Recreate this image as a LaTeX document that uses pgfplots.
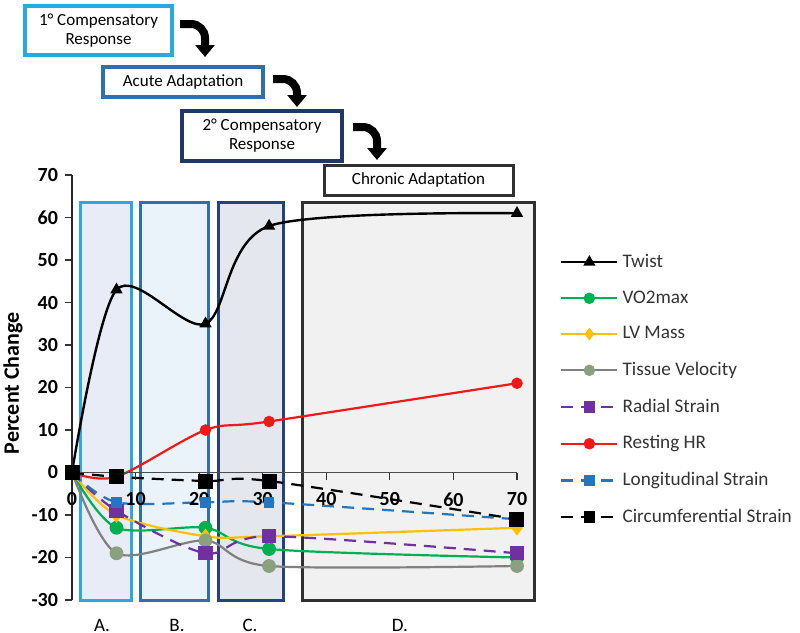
\documentclass[border=0pt]{standalone}
\usepackage{fontspec}
\setmainfont{Carlito}
\usepackage{pgfplots}
\pgfplotsset{compat=1.18}
\usetikzlibrary{arrows.meta}
\definecolor{cA}{HTML}{2AA8E0}
\definecolor{cB}{HTML}{2E6FB0}
\definecolor{cC}{HTML}{24427E}
\definecolor{cD}{HTML}{303030}
\definecolor{fA}{HTML}{E8ECF6}
\definecolor{fB}{HTML}{EAF2FA}
\definecolor{fC}{HTML}{E4E7EE}
\definecolor{fD}{HTML}{F1F1F1}
\definecolor{vo}{HTML}{00B050}
\definecolor{lv}{HTML}{FFC000}
\definecolor{tvl}{HTML}{808080}
\definecolor{tvm}{HTML}{8AA07E}
\definecolor{rad}{HTML}{7030A0}
\definecolor{hr}{HTML}{F01818}
\definecolor{lon}{HTML}{2377C0}
\definecolor{b3}{HTML}{1F3864}
\begin{document}
\begin{tikzpicture}
\useasboundingbox (0,0) rectangle (400pt,-316.5pt);
\begin{axis}[
  at={(36pt,-300pt)}, anchor=south west,
  scale only axis, width=222.5pt, height=212.5pt,
  xmin=0, xmax=70, ymin=-30, ymax=70,
  clip=false, axis on top,
  axis x line=middle, axis y line=left,
  axis line style={-},
  x axis line style={draw=black!70, line width=0.6pt},
  y axis line style={draw=black!85, line width=0.8pt},
  xtick={0,10,...,70}, ytick={-30,-20,...,70},
  tick align=outside, major tick length=3.5pt,
  tick style={black!80, line width=0.6pt},
  hide obscured x ticks=false,
  ticklabel style={font=\bfseries\fontsize{10}{12}\selectfont},
  xticklabel style={yshift=-3pt},
  /pgf/number format/assume math mode=true,
  ylabel={Percent Change},
  ylabel style={at={(axis description cs:-0.1326,0.51)}, anchor=center, font=\bfseries\fontsize{11}{13}\selectfont},
  legend style={at={(axis cs:76.1,53.4)}, anchor=north west, draw=none, fill=none,
    font=\fontsize{9.6}{11}\selectfont, text=black!80, row sep=6.2pt, inner xsep=2pt},
  legend cell align=left,
  legend image post style={mark size=2.3pt},
  legend image code/.code={\draw[mark repeat=2,mark phase=2,#1] plot coordinates {(0pt,0pt) (14pt,0pt) (28pt,0pt)};},
]
\filldraw[fill=fA, draw=cA, line width=1.5pt] (axis cs:1.26,-30) rectangle (axis cs:9.3,63.5);
\filldraw[fill=fB, draw=cB, line width=1.5pt] (axis cs:10.7,-30) rectangle (axis cs:21.4,63.5);
\filldraw[fill=fC, draw=cC, line width=1.5pt] (axis cs:23.1,-30) rectangle (axis cs:33.2,63.5);
\filldraw[fill=fD, draw=cD, line width=1.5pt] (axis cs:36.2,-30) rectangle (axis cs:72.7,63.5);

\addplot[smooth, black, line width=1.2pt, mark=triangle*, mark size=2.4pt]
  coordinates {(0,0)(7,43)(21,35)(31,58)(70,61)};
\addlegendentry{Twist}
\addplot[smooth, vo, line width=1.1pt, mark=*, mark size=2.9pt]
  coordinates {(0,0)(7,-13)(21,-13)(31,-18)(70,-20)};
\addlegendentry{VO2max}
\addplot[smooth, lv, line width=1.1pt, mark=diamond*, mark size=3pt]
  coordinates {(0,0)(7,-10)(21,-15)(31,-15)(70,-13)};
\addlegendentry{LV Mass}
\addplot[smooth, tvl, line width=1.1pt, mark=*, mark size=2.9pt, mark options={fill=tvm, draw=tvm}]
  coordinates {(0,0)(7,-19)(21,-16)(31,-22)(70,-22)};
\addlegendentry{Tissue Velocity}
\addplot[smooth, rad, line width=1.1pt, dash pattern=on 6pt off 4pt, mark=square*, mark size=3pt, mark options={solid}]
  coordinates {(0,0)(7,-9)(21,-19)(31,-15)(70,-19)};
\addlegendentry{Radial Strain}
\addplot[smooth, hr, line width=1.1pt, mark=*, mark size=2.3pt]
  coordinates {(0,0)(7,-1)(21,10)(31,12)(70,21)};
\addlegendentry{Resting HR}
\addplot[smooth, lon, line width=1.1pt, dash pattern=on 6pt off 4pt, mark=square*, mark size=2.1pt, mark options={solid}]
  coordinates {(0,0)(7,-7)(21,-7)(31,-7)(70,-11)};
\addlegendentry{Longitudinal Strain}
\addplot[smooth, black, line width=1.1pt, dash pattern=on 6pt off 4pt, mark=square*, mark size=3.2pt, mark options={solid}]
  coordinates {(0,0)(7,-1)(21,-2)(31,-2)(70,-11)};
\addlegendentry{Circumferential Strain}
\end{axis}
\begin{scope}[x=0.5pt,y=-0.5pt]
\draw[cA, line width=1.7pt] (25,6) rectangle (172,55);
\node[align=center, font=\fontsize{8.5}{9.5}\selectfont] at (98.5,30.5) {1° Compensatory\\Response};
\draw[cB, line width=1.6pt] (103,67) rectangle (263,97);
\node[font=\fontsize{8.5}{9.5}\selectfont] at (183,82) {Acute Adaptation};
\draw[b3, line width=1.6pt] (182,111) rectangle (342,161);
\node[align=center, font=\fontsize{8.5}{9.5}\selectfont] at (262,136) {2° Compensatory\\Response};
\draw[cD, line width=1.5pt] (324,165) rectangle (513,195);
\node[font=\fontsize{8.5}{9.5}\selectfont] at (418.5,180) {Chronic Adaptation};
\draw[line width=4pt, rounded corners=7pt, -{Triangle[length=6pt,width=9.5pt]}] (180,24) -| (205,57);
\draw[line width=4pt, rounded corners=7pt, -{Triangle[length=6pt,width=9.5pt]}] (273,79) -| (297,107);
\draw[line width=4pt, rounded corners=7pt, -{Triangle[length=6pt,width=9.5pt]}] (353,127) -| (377,160);
\node[font=\fontsize{9.5}{11}\selectfont, inner sep=0pt, anchor=base] at (102,631) {A.};
\node[font=\fontsize{9.5}{11}\selectfont, inner sep=0pt, anchor=base] at (177,631) {B.};
\node[font=\fontsize{9.5}{11}\selectfont, inner sep=0pt, anchor=base] at (250,631) {C.};
\node[font=\fontsize{9.5}{11}\selectfont, inner sep=0pt, anchor=base] at (400,631) {D.};
\end{scope}
\end{tikzpicture}
\end{document}
